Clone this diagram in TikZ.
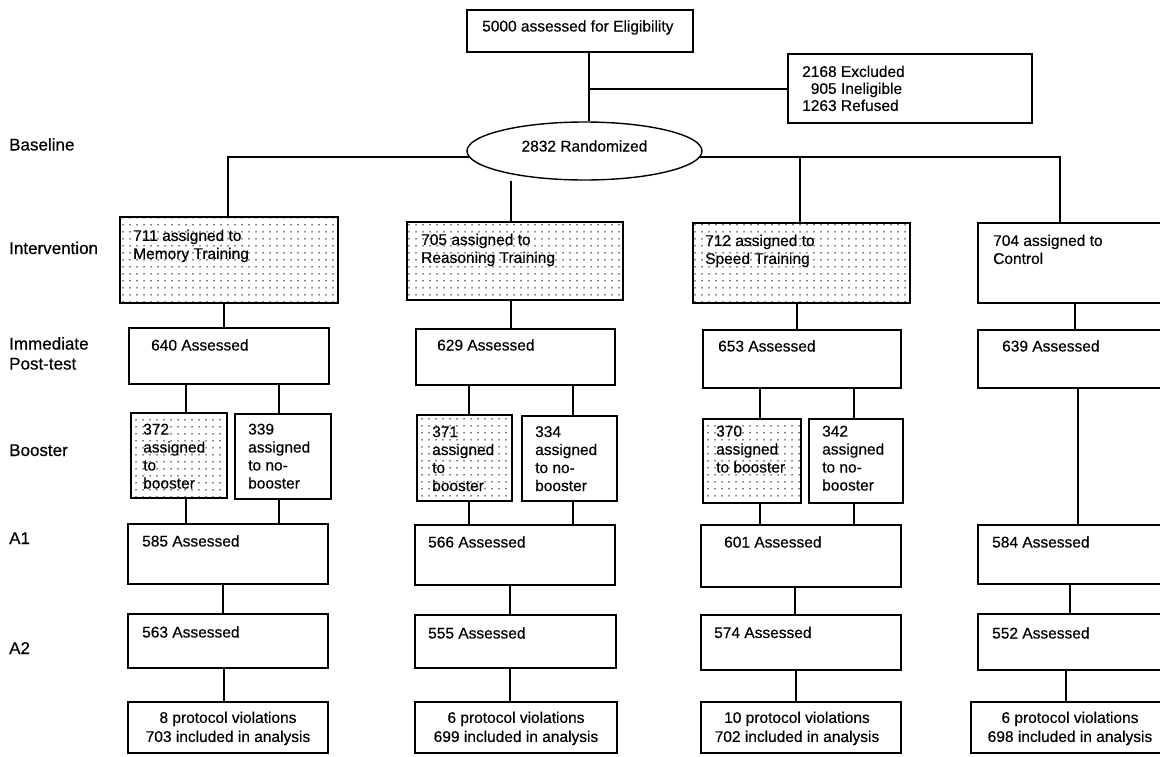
\documentclass[tikz,border=0pt]{standalone}
\usepackage{fontspec}
\setmainfont{Liberation Sans}[FakeBold=0.4]
\usetikzlibrary{shapes.geometric,fit,backgrounds,patterns.meta}
\begin{document}
\begin{tikzpicture}[x=1pt,y=-1pt,
  bx/.style={draw, line width=1.4pt, inner sep=0pt},
  dbx/.style={bx, pattern={Dots[distance=6.5pt,radius=0.8pt]}},
  tx/.style={inner sep=0pt, font=\fontsize{15.5}{18}\selectfont, anchor=base west},
  mtx/.style={inner sep=0pt, font=\fontsize{15.5}{18}\selectfont, align=left, anchor=north west},
  ftx/.style={inner sep=0pt, font=\fontsize{15.5}{19}\selectfont, align=center, anchor=north},
  lab/.style={inner sep=0pt, font=\fontsize{17}{20}\selectfont, anchor=base west},
  cn/.style={line width=1.2pt}]
\clip (0,0) rectangle (1160,756);
\useasboundingbox (0,0) rectangle (1160,756);

% ---------- row labels ----------
\node[lab] (lbase) at (9,150.5) {Baseline};
\node[lab] (lint) at (9,254) {Intervention};
\node[lab, align=left, anchor=north west] (lpost) at (9,337) {Immediate\\Post-test};
\node[lab] (lboost) at (9,456) {Booster};
\node[lab] (la1) at (9,544) {A1};
\node[lab] (la2) at (9,654) {A2};

% ---------- top ----------
\node[bx, fit={(467,10) (693,52)}] (elig) {};
\node[tx] (eligt) at (482,31.5) {5000 assessed for Eligibility};
\node[bx, fit={(788,54) (1032,123)}] (excl) {};
\node[mtx, font=\fontsize{15.5}{17}\selectfont] (exclt) at (802,65.5) {2168 Excluded\\\hphantom{0}905 Ineligible\\1263 Refused};
\node[ellipse, draw, line width=1.4pt, fill=white, minimum width=235pt, minimum height=58pt, inner sep=0pt] (rand) at (584.5,151) {};
\node[tx, anchor=base] (randt) at (584.5,151.5) {2832 Randomized};

% ---------- column 1 ----------
\node[dbx, fit={(120,217) (338,303)}] (i1) {};
\node[mtx] (i1t) at (133,229.5) {711 assigned to\\Memory Training};
\node[bx, fit={(129,328) (329,384)}] (p1) {};
\node[tx] (p1t) at (151,350.5) {640 Assessed};
\node[dbx, fit={(131,413) (227,498)}] (b1a) {};
\node[mtx] (b1at) at (143,423.5) {372\\assigned\\to\\booster};
\node[bx, fit={(235,414) (331,499)}] (b1b) {};
\node[mtx] (b1bt) at (248,423.5) {339\\assigned\\to no-\\booster};
\node[bx, fit={(128,524) (328,584)}] (a11) {};
\node[tx] (a11t) at (142,546.5) {585 Assessed};
\node[bx, fit={(128,614) (328,668)}] (a21) {};
\node[tx] (a21t) at (142,637.5) {563 Assessed};
\node[bx, fit={(128,702) (328,753)}] (f1) {};
\node[ftx] (f1t) at (228,711.5) {8 protocol violations\\703 included in analysis};

% ---------- column 2 ----------
\node[dbx, fit={(407,222) (623,300)}] (i2) {};
\node[mtx] (i2t) at (421,233.5) {705 assigned to\\Reasoning Training};
\node[bx, fit={(416,329) (615,385)}] (p2) {};
\node[tx] (p2t) at (437,350.5) {629 Assessed};
\node[dbx, fit={(417,415) (512,501)}] (b2a) {};
\node[mtx] (b2at) at (432,426) {371\\assigned\\to\\booster};
\node[bx, fit={(522,416) (617,501)}] (b2b) {};
\node[mtx] (b2bt) at (535,426) {334\\assigned\\to no-\\booster};
\node[bx, fit={(415,525) (615,585)}] (a12) {};
\node[tx] (a12t) at (428,547.5) {566 Assessed};
\node[bx, fit={(415,615) (616,668)}] (a22) {};
\node[tx] (a22t) at (428,638.5) {555 Assessed};
\node[bx, fit={(415,702) (617,753)}] (f2) {};
\node[ftx] (f2t) at (516,711.5) {6 protocol violations\\699 included in analysis};

% ---------- column 3 ----------
\node[dbx, fit={(693,223) (910,303)}] (i3) {};
\node[mtx] (i3t) at (705,234.5) {712 assigned to\\Speed Training};
\node[bx, fit={(703,330) (901,388)}] (p3) {};
\node[tx] (p3t) at (718,351.5) {653 Assessed};
\node[dbx, fit={(703,419) (801,503)}] (b3a) {};
\node[mtx] (b3at) at (716,425.5) {370\\assigned\\to booster};
\node[bx, fit={(809,419) (903,503)}] (b3b) {};
\node[mtx] (b3bt) at (822,425.5) {342\\assigned\\to no-\\booster};
\node[bx, fit={(701,525) (901,587)}] (a13) {};
\node[tx] (a13t) at (724,547.5) {601 Assessed};
\node[bx, fit={(701,615) (901,670)}] (a23) {};
\node[tx] (a23t) at (714,638) {574 Assessed};
\node[bx, fit={(701,702) (901,753)}] (f3) {};
\node[ftx] (f3t) at (797,711.5) {10 protocol violations\\702 included in analysis};

% ---------- column 4 ----------
\node[bx, fit={(978,223) (1180,303)}] (i4) {};
\node[mtx] (i4t) at (993,234.5) {704 assigned to\\Control};
\node[bx, fit={(978,330) (1180,388)}] (p4) {};
\node[tx] (p4t) at (1002,351.5) {639 Assessed};
\node[bx, fit={(978,525) (1180,584)}] (a14) {};
\node[tx] (a14t) at (992,547.5) {584 Assessed};
\node[bx, fit={(978,614) (1180,670)}] (a24) {};
\node[tx] (a24t) at (992,638.5) {552 Assessed};
\node[bx, fit={(971,702) (1175,753)}] (f4) {};
\node[ftx] (f4t) at (1070,711.5) {6 protocol violations\\698 included in analysis};

% ---------- connector x positions ----------
\coordinate (xe) at (589,0);
\coordinate (je) at (589,89);
\coordinate (busL) at (228,157);
\coordinate (busR) at (1060,157);
\coordinate (x2) at (511,0);
\coordinate (x3) at (800,0);
\coordinate (k1) at (224,0);
\coordinate (k2) at (511,0);
\coordinate (k3) at (797,0);
\coordinate (k4) at (1075,0);
\coordinate (m1a) at (186,0);
\coordinate (m1b) at (279,0);
\coordinate (m2a) at (469,0);
\coordinate (m2b) at (573,0);
\coordinate (m3a) at (760,0);
\coordinate (m3b) at (854,0);
\coordinate (m4) at (1078,0);
\coordinate (n1) at (223,0);
\coordinate (n2) at (510,0);
\coordinate (n3) at (795,0);
\coordinate (n4) at (1070,0);
\coordinate (q1) at (224,0);
\coordinate (q2) at (510,0);
\coordinate (q3) at (796,0);
\coordinate (q4) at (1066,0);

\begin{scope}[on background layer]
\draw[cn] (elig.south -| xe) -- (rand.north -| xe);
\draw[cn] (je) -- (je -| excl.west);
\draw[cn] (i1.north -| busL) |- (busR) -- (i4.north -| busR);
\draw[cn] (rand.south -| x2) -- (i2.north -| x2);
\draw[cn] (busL -| x3) -- (i3.north -| x3);
% intervention -> post-test
\draw[cn] (i1.south -| k1) -- (p1.north -| k1);
\draw[cn] (i2.south -| k2) -- (p2.north -| k2);
\draw[cn] (i3.south -| k3) -- (p3.north -| k3);
\draw[cn] (i4.south -| k4) -- (p4.north -| k4);
% post-test -> booster -> A1
\draw[cn] (p1.south -| m1a) -- (b1a.north -| m1a);
\draw[cn] (p1.south -| m1b) -- (b1b.north -| m1b);
\draw[cn] (b1a.south -| m1a) -- (a11.north -| m1a);
\draw[cn] (b1b.south -| m1b) -- (a11.north -| m1b);
\draw[cn] (p2.south -| m2a) -- (b2a.north -| m2a);
\draw[cn] (p2.south -| m2b) -- (b2b.north -| m2b);
\draw[cn] (b2a.south -| m2a) -- (a12.north -| m2a);
\draw[cn] (b2b.south -| m2b) -- (a12.north -| m2b);
\draw[cn] (p3.south -| m3a) -- (b3a.north -| m3a);
\draw[cn] (p3.south -| m3b) -- (b3b.north -| m3b);
\draw[cn] (b3a.south -| m3a) -- (a13.north -| m3a);
\draw[cn] (b3b.south -| m3b) -- (a13.north -| m3b);
\draw[cn] (p4.south -| m4) -- (a14.north -| m4);
% A1 -> A2
\draw[cn] (a11.south -| n1) -- (a21.north -| n1);
\draw[cn] (a12.south -| n2) -- (a22.north -| n2);
\draw[cn] (a13.south -| n3) -- (a23.north -| n3);
\draw[cn] (a14.south -| n4) -- (a24.north -| n4);
% A2 -> final
\draw[cn] (a21.south -| q1) -- (f1.north -| q1);
\draw[cn] (a22.south -| q2) -- (f2.north -| q2);
\draw[cn] (a23.south -| q3) -- (f3.north -| q3);
\draw[cn] (a24.south -| q4) -- (f4.north -| q4);
\end{scope}
\end{tikzpicture}
\end{document}
